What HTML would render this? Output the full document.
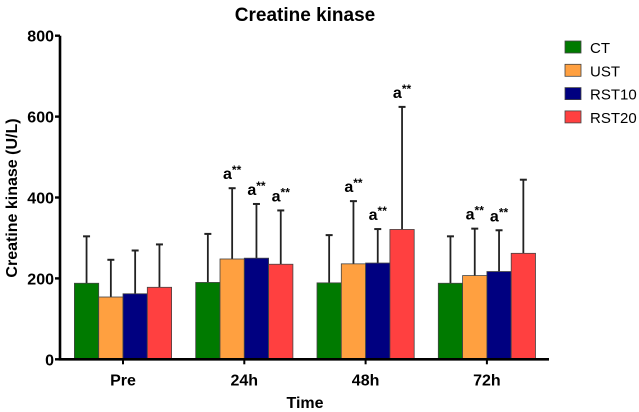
<!DOCTYPE html>
<html><head><meta charset="utf-8"><style>
body{margin:0;background:#fff}
svg{display:block;font-family:"Liberation Sans",Arial,sans-serif}
</style></head><body>
<svg id="chart" width="639" height="412">
<text x="305" y="21" text-anchor="middle" font-size="19" font-weight="bold">Creatine kinase</text>
<text transform="translate(17,198) rotate(-90)" text-anchor="middle" font-size="16" font-weight="bold">Creatine kinase (U/L)</text>
<text x="305" y="408" text-anchor="middle" font-size="16" font-weight="bold">Time</text>
<g id="plot"></g>
<g id="legend"></g>
</svg>
<script>
const categories=["Pre","24h","48h","72h"];
const seriesNames=["CT","UST","RST10","RST20"];
const colors=["#007a00","#ffa040","#000080","#ff4040"];
const ctVals=[188,190,189,188];
const ustVals=[154,248,236,207];
const rst10Vals=[162,250,238,217];
const rst20Vals=[178,235,321,262];
const ctErr=[304,310,307,304];
const ustErr=[246,423,391,323];
const rst10Err=[269,384,322,319];
const rst20Err=[284,368,624,444];
const yTicks=[0,200,400,600,800];
const annotCat=[1,1,1,2,2,2,3,3];
const annotSer=[1,2,3,1,2,3,1,2];
const values=[ctVals,ustVals,rst10Vals,rst20Vals];
const errs=[ctErr,ustErr,rst10Err,rst20Err];
const NS="http://www.w3.org/2000/svg";
const plot=document.getElementById('plot');
const y0=359.3,yTop=35.7,xL=60,xR=549,bw=24.3;
const y=v=>y0-(v/800)*(y0-yTop);
const cx=i=>123+i*121.3;
const bx=(i,s)=>cx(i)-2*bw+s*bw;
function mk(t,a){const e=document.createElementNS(NS,t);for(const k in a)e.setAttribute(k,a[k]);return e;}
categories.forEach((c,i)=>{
  values.forEach((arr,s)=>{
    const x=bx(i,s),xm=x+bw/2;
    const el=mk('line',{x1:xm,x2:xm,y1:y(errs[s][i]),y2:y(arr[i]),stroke:'#222','stroke-width':1.8});
    
    plot.appendChild(el);
    const cap=mk('line',{x1:xm-3.5,x2:xm+3.5,y1:y(errs[s][i]),y2:y(errs[s][i]),stroke:'#222','stroke-width':2});
    
    plot.appendChild(cap);
    const r=mk('rect',{x:x,y:y(arr[i]),width:bw,height:y0-y(arr[i]),fill:colors[s],stroke:'#444','stroke-width':0.8});
    
    plot.appendChild(r);
  });
  const t=mk('text',{x:cx(i),y:y0+26,'text-anchor':'middle','font-size':16,'font-weight':'bold'});
  t.textContent=c;
  
  plot.appendChild(t);
  const tk=mk('line',{x1:cx(i),x2:cx(i),y1:y0,y2:y0+5,stroke:'#000','stroke-width':2});
  
  plot.appendChild(tk);
});
annotCat.forEach((ci,k)=>{
  const s=annotSer[k];
  const t=mk('text',{x:bx(ci,s)+bw/2,y:y(errs[s][ci])-9,'text-anchor':'middle','font-size':16,'font-weight':'bold'});
  t.innerHTML='a<tspan dy="-5" font-size="12">**</tspan>';
  
  plot.appendChild(t);
});
const ax=mk('path',{d:`M${xL},${yTop} V${y0} H${xR}`,fill:'none',stroke:'#000','stroke-width':2.6});

plot.appendChild(ax);
yTicks.forEach(v=>{
  const l=mk('line',{x1:xL-5,x2:xL,y1:y(v),y2:y(v),stroke:'#000','stroke-width':2.4});
  
  plot.appendChild(l);
  const t=mk('text',{x:xL-6,y:y(v)+6,'text-anchor':'end','font-size':16,'font-weight':'bold'});
  t.textContent=v;
  
  plot.appendChild(t);
});
const lg=document.getElementById('legend');
seriesNames.forEach((n,s)=>{
  const r=mk('rect',{x:565,y:41+s*23.3,width:16,height:12,fill:colors[s],stroke:'#444','stroke-width':0.8});
  
  lg.appendChild(r);
  const t=mk('text',{x:590,y:53+s*23.3,'font-size':15});
  t.textContent=n;
  
  lg.appendChild(t);
});
</script>
</body></html>
